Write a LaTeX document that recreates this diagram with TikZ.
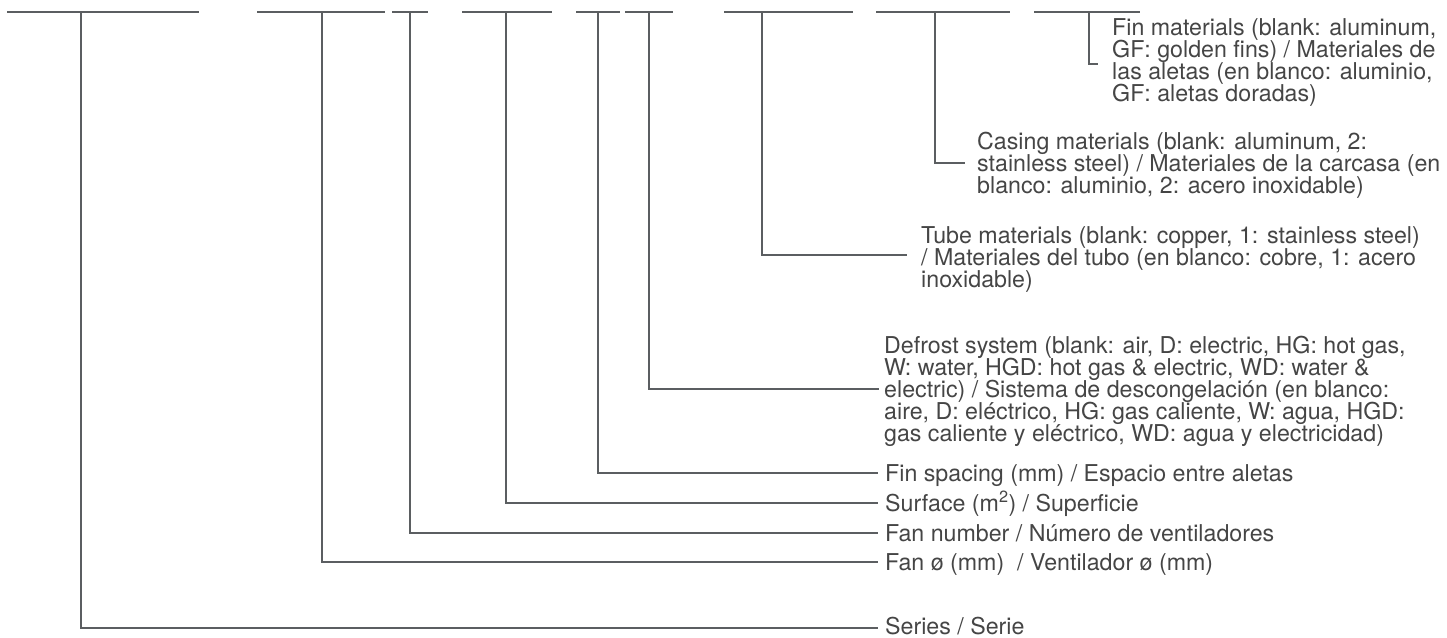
\documentclass[tikz,border=0pt]{standalone}
\usepackage{fontspec}
\setmainfont{TeX Gyre Heros}
\definecolor{ln}{HTML}{5B5E61}
\definecolor{tx}{HTML}{454545}
\newcommand{\blk}[1]{\vtop{\lineskiplimit=-50pt\halign{##\hfil\cr#1\crcr}}}
\begin{document}
\begin{tikzpicture}[x=1pt,y=-1pt,
  bar/.style={draw=ln, line width=2pt},
  conn/.style={draw=ln, line width=2pt},
  lbl/.style={inner sep=0pt, text=tx, anchor=base west, font=\fontsize{23.2}{22}\selectfont}]
\useasboundingbox (0,0) rectangle (1447,637);
% top bars
\coordinate (b1l) at (7,12);    \coordinate (b1r) at (199,12);  \coordinate (t1) at (81,12);
\coordinate (b2l) at (257,12);  \coordinate (b2r) at (385,12);  \coordinate (t2) at (322,12);
\coordinate (b3l) at (392,12);  \coordinate (b3r) at (428,12);  \coordinate (t3) at (410,12);
\coordinate (b4l) at (462,12);  \coordinate (b4r) at (552,12);  \coordinate (t4) at (506,12);
\coordinate (b5l) at (576,12);  \coordinate (b5r) at (620,12);  \coordinate (t5) at (598,12);
\coordinate (b6l) at (625,12);  \coordinate (b6r) at (673,12);  \coordinate (t6) at (649,12);
\coordinate (b7l) at (724,12);  \coordinate (b7r) at (853,12);  \coordinate (t7) at (762,12);
\coordinate (b8l) at (876,12);  \coordinate (b8r) at (1010,12); \coordinate (t8) at (935,12);
\coordinate (b9l) at (1034,12); \coordinate (b9r) at (1140,12); \coordinate (t9) at (1089,12);
\foreach \i in {1,...,9} {\draw[bar] (b\i l) -- (b\i r);}
% connector ends
\coordinate (e1) at (878,628);
\coordinate (e2) at (878,562);
\coordinate (e3) at (878,533);
\coordinate (e4) at (878,503);
\coordinate (e5) at (878,473);
\coordinate (e6) at (879,389);
\coordinate (e7) at (907,255);
\coordinate (e8) at (965,163);
\coordinate (e9) at (1098,64);
\foreach \i in {1,...,9} {\draw[conn] (t\i) |- (e\i);}
% labels
\node[lbl] (series) at (885,634) {Series / Serie};
\node[lbl] (fandia) at (885,570.5) {Fan ø (mm)~ / Ventilador ø (mm)};
\node[lbl] (fannum) at (885,541.5) {Fan number / Número de ventiladores};
\node[lbl] (surf) at (885,511.5) {Surface (m\textsuperscript{2}) / Superficie};
\node[lbl] (finsp) at (885,481.5) {Fin spacing (mm) / Espacio entre aletas};
\node[lbl] (defrost) at (884,353) {\blk{Defrost system (blank: air, D: electric, HG: hot gas,\cr W: water, HGD: hot gas \& electric, WD: water \&\cr electric) / Sistema de descongelación (en blanco:\cr aire, D: eléctrico, HG: gas caliente, W: agua, HGD:\cr gas caliente y eléctrico, WD: agua y electricidad)}};
\node[lbl] (tube) at (921,243) {\blk{Tube materials (blank: copper, 1: stainless steel)\cr / Materiales del tubo (en blanco: cobre, 1: acero\cr inoxidable)}};
\node[lbl] (casing) at (977,149) {\blk{Casing materials (blank: aluminum, 2:\cr stainless steel) / Materiales de la carcasa (en\cr blanco: aluminio, 2: acero inoxidable)}};
\node[lbl] (fin) at (1112,35) {\blk{Fin materials (blank: aluminum,\cr GF: golden fins) / Materiales de\cr las aletas (en blanco: aluminio,\cr GF: aletas doradas)}};
\end{tikzpicture}
\end{document}
